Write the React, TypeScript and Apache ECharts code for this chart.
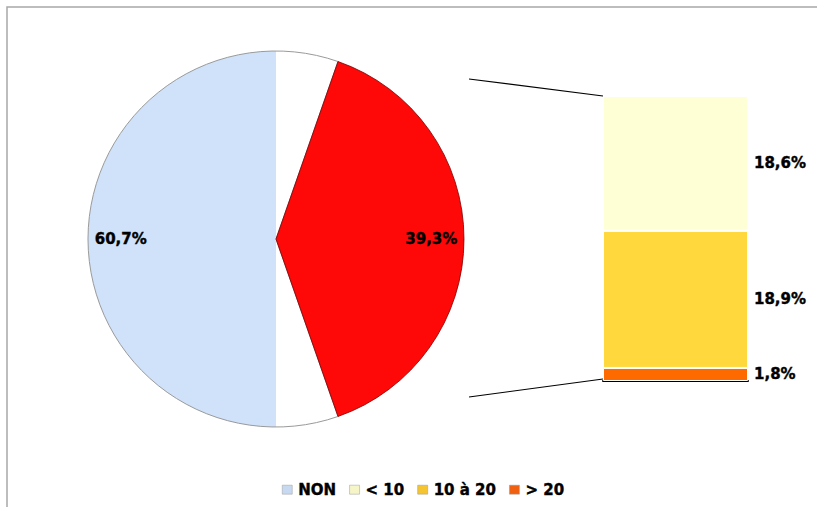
import React, { useEffect, useRef } from "react";
import * as echarts from "echarts";

// ---- data ----
const pieNames = ["NON", "Autres"];
const pieValues = [60.7, 39.3];
const barNames = ["> 20", "10 à 20", "< 10"]; // stacked bottom -> top
const barValues = [1.8, 18.9, 18.6];
const legendOrder = ["NON", "< 10", "10 à 20", "> 20"];

// ---- style / layout ----
const W = 817;
const H = 507;
const PIE_CX = 276;
const PIE_CY = 239;
const PIE_R = 188;
const BAR_LEFT = 603;
const BAR_TOP = 96;
const BAR_W = 145;
const BAR_H = 285;
const FONT = "DejaVu Sans";
const BLUE = "#CFE2FA";
const RED = "#FF0808";
const barColors: Record<string, string> = {
  "< 10": "#FFFFD6",
  "10 à 20": "#FFD83E",
  "> 20": "#FF6A00",
};
const legendColors: Record<string, string> = {
  NON: "#C6D9F1",
  "< 10": "#F5F5C8",
  "10 à 20": "#F5C531",
  "> 20": "#F06010",
};

const fmt = (v: number) => v.toFixed(1).replace(".", ",") + "%";

export default function App() {
  const ref = useRef<HTMLDivElement>(null);

  useEffect(() => {
    if (!ref.current) return;
    const chart = echarts.init(ref.current, undefined, { renderer: "svg" });

    const total = pieValues.reduce((a, b) => a + b, 0);
    const otherFrac = pieValues[1] / total;
    const nonFrac = pieValues[0] / total;
    const startAngle = (otherFrac * 360) / 2 + nonFrac * 360;
    const cut = PIE_CX / W;

    const nonColor = {
      type: "linear",
      x: 0,
      y: 0,
      x2: W,
      y2: 0,
      global: true,
      colorStops: [
        { offset: 0, color: BLUE },
        { offset: cut - 0.0005, color: BLUE },
        { offset: cut, color: "#FFFFFF" },
        { offset: 1, color: "#FFFFFF" },
      ],
    };

    const pieData = pieNames.map((n, i) => ({
      name: n,
      value: pieValues[i],
      itemStyle:
        i === 0
          ? { color: nonColor, borderColor: "#9a9a9a", borderWidth: 1 }
          : { color: RED, borderColor: "#7a0000", borderWidth: 0.8 },
    }));

    const barTotal = barValues.reduce((a, b) => a + b, 0);
    const barBottom = BAR_TOP + BAR_H;

    const labelStyle = {
      fontFamily: FONT,
      fontWeight: "bold" as const,
      fontSize: 15,
      color: "#000",
      textBorderColor: "#000",
      textBorderWidth: 0.4,
    };

    chart.setOption({
      animation: false,
      backgroundColor: "#fff",
      legend: {
        left: 277,
        top: 477,
        icon: "rect",
        itemWidth: 10,
        itemHeight: 9,
        itemGap: 13,
        textStyle: { ...labelStyle, padding: [0, 0, 0, 1] },
        data: legendOrder.map((n) => ({
          name: n,
          itemStyle: { color: legendColors[n], borderColor: "#9a9a9a", borderWidth: 0.5 },
        })),
      },
      grid: {
        left: BAR_LEFT,
        top: BAR_TOP,
        width: BAR_W,
        height: BAR_H,
      },
      xAxis: {
        type: "category",
        data: ["Autres"],
        axisLabel: { show: false },
        axisTick: { show: false },
        axisLine: { show: true, lineStyle: { color: "#000", width: 2 } },
      },
      yAxis: {
        type: "value",
        min: 0,
        max: barTotal,
        show: false,
        splitLine: { show: false },
      },
      series: [
        {
          type: "pie",
          name: "pie",
          center: [PIE_CX, PIE_CY],
          radius: [0, PIE_R],
          startAngle,
          clockwise: true,
          silent: true,
          label: { show: false },
          labelLine: { show: false },
          data: pieData,
        },
        {
          type: "pie",
          name: "pieLabels",
          center: [PIE_CX, PIE_CY],
          radius: [PIE_R * 0.62, PIE_R],
          startAngle,
          clockwise: true,
          silent: true,
          itemStyle: { color: "rgba(0,0,0,0)" },
          emphasis: { disabled: true },
          label: {
            show: true,
            position: "inside",
            ...labelStyle,
            formatter: (p: any) => fmt(p.value),
          },
          labelLine: { show: false },
          data: pieNames.map((n, i) => ({
            name: n + " ",
            value: pieValues[i],
            itemStyle: { color: "rgba(0,0,0,0)" },
          })),
        },
        ...barNames.map((n, i) => ({
          type: "bar",
          name: n,
          stack: "total",
          barWidth: "100%",
          data: [barValues[i]],
          itemStyle: {
            color: barColors[n],
            borderColor: "#ffffff",
            borderWidth: 1,
          },
          label: {
            show: true,
            position: "right",
            distance: 6,
            ...labelStyle,
            formatter: (p: any) => fmt(p.value),
          },
        })),
      ],
      graphic: [
        {
          type: "rect",
          shape: { x: 7, y: 7, width: W + 20, height: H + 20 },
          style: { fill: "none", stroke: "#A8A8A8", lineWidth: 1.5 },
          silent: true,
          z: 100,
        },
        {
          type: "line",
          shape: { x1: PIE_CX + 193, y1: PIE_CY - 160, x2: BAR_LEFT, y2: BAR_TOP },
          style: { stroke: "#000", lineWidth: 1.2 },
          silent: true,
        },
        {
          type: "line",
          shape: { x1: PIE_CX + 193, y1: PIE_CY + 158, x2: BAR_LEFT, y2: barBottom - 2 },
          style: { stroke: "#000", lineWidth: 1.2 },
          silent: true,
        },
      ],
    });

    return () => chart.dispose();
  }, []);

  return (
    <div
      ref={ref}
      style={{ position: "fixed", left: 0, top: 0, width: W, height: H }}
    />
  );
}
